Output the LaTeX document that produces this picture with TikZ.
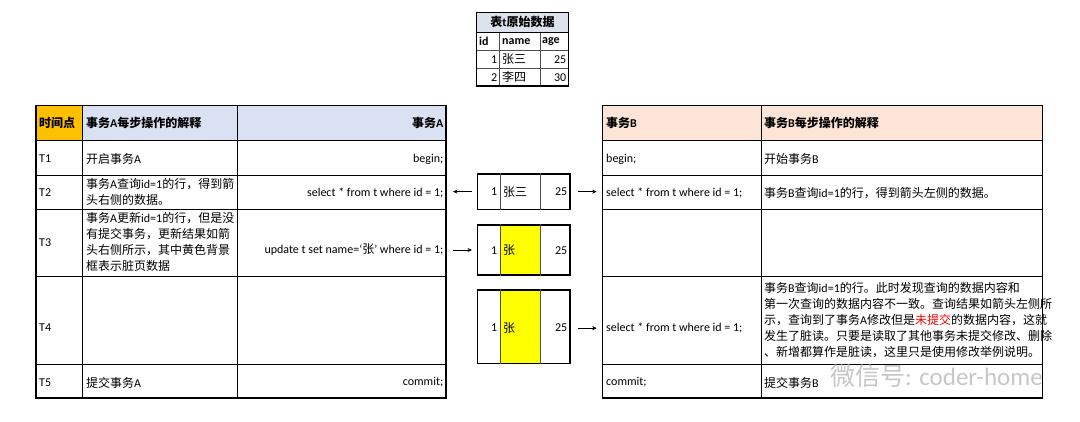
\documentclass[tikz,border=0pt]{standalone}
\usepackage{fontspec}
\setmainfont{Carlito}
\newfontfamily\cjk{Noto Sans CJK SC}
\usetikzlibrary{arrows.meta}
\newcommand\zh[1]{{\cjk #1}}
\definecolor{hdrA}{HTML}{D9E1F2}
\definecolor{hdrB}{HTML}{FCE4D6}
\definecolor{hdrT}{HTML}{DCE3EC}
\definecolor{orangeH}{HTML}{FFC000}
\definecolor{dirty}{HTML}{FFFF00}
\definecolor{innerc}{HTML}{505050}
\begin{document}
\begin{tikzpicture}[x=1pt,y=-1pt,
  font=\fontsize{12}{16}\selectfont,
  every node/.style={inner sep=0pt},
  outer/.style={draw=black,line width=1.6pt},
  inner/.style={draw=black,line width=0.8pt},
  thin/.style={draw=innerc,line width=0.7pt},
  rowbox/.style={draw=black,line width=1.5pt,minimum width=92.3pt},
  arr/.style={draw=black,line width=0.6pt,-{Stealth[length=4.5pt,width=4pt]}},
  lt/.style={anchor=west},
  rt/.style={anchor=east},
  para/.style={anchor=north west,align=left,font=\fontsize{12}{16}\selectfont}]
\useasboundingbox[fill=white] (0,0) rectangle (1080,422);

% ---------- top table ----------
\fill[hdrT] (476.7,12.3) rectangle (568.3,32.3);
\draw[thin] (499.3,32.3) -- (499.3,86) (540,32.3) -- (540,86);
\draw[thin] (476.7,50.7) -- (568.3,50.7) (476.7,68.3) -- (568.3,68.3);
\draw[inner] (476.7,32.3) -- (568.3,32.3);
\draw[outer,line width=1.3pt] (476.7,12.3) rectangle (568.3,86);
\node (th) at (522.5,22.3) {\bfseries\zh{表}t\zh{原始数据}};
\node[lt] (tid) at (479,41.5) {\bfseries id};
\node[lt] (tname) at (502,41.5) {\bfseries name};
\node[lt] (tage) at (542,41.5) {\bfseries age};
\node[rt] (t1a) at (497.5,59.5) {1};
\node[lt] (t1b) at (502,59.5) {\zh{张三}};
\node[rt] (t1c) at (566.5,59.5) {25};
\node[rt] (t2a) at (497.5,77.2) {2};
\node[lt] (t2b) at (502,77.2) {\zh{李四}};
\node[rt] (t2c) at (566.5,77.2) {30};

% ---------- table A ----------
\fill[orangeH] (36,105.5) rectangle (82.5,140);
\fill[hdrA] (82.5,105.5) rectangle (446,140);
\draw[inner] (82.5,105.5) -- (82.5,398) (237,105.5) -- (237,398);
\foreach \yy in {140,175,209.5,276,364} \draw[inner] (36,\yy) -- (446,\yy);
\draw[outer] (36,105.5) rectangle (446,398);
\coordinate (Aright) at (446,0);

\node[lt] (ah1) at (39,123) {\bfseries\zh{时间点}};
\node[lt] (ah2) at (86,123) {\bfseries\zh{事务}A\zh{每步操作的解释}};
\node[rt] (ah3) at (443.5,123) {\bfseries\zh{事务}A};

\node[lt] (aT1) at (39,159) {T1};
\node[lt] (a1e) at (86,159) {\zh{开启事务}A};
\node[rt] (a1s) at (443.5,159) {begin;};

\node[lt] (aT2) at (39,193) {T2};
\node[para] (a2e) at (86,178.5) {\zh{事务}A\zh{查询}id=1\zh{的行，得到箭}\\\zh{头右侧的数据。}};
\node[rt] (a2s) at (443.5,193) {select * from t where id = 1;};

\node[lt] (aT3) at (39,243) {T3};
\node[para] (a3e) at (86,211.8) {\zh{事务}A\zh{更新}id=1\zh{的行，但是没}\\\zh{有提交事务，更新结果如箭}\\\zh{头右侧所示，其中黄色背景}\\\zh{框表示脏页数据}};
\node[rt] (a3s) at (443.5,250) {update t set name=‘\zh{张}’ where id = 1;};

\node[lt] (aT4) at (39,328) {T4};

\node[lt] (aT5) at (39,382.5) {T5};
\node[lt] (a5e) at (86,382.5) {\zh{提交事务}A};
\node[rt] (a5s) at (443.5,382.5) {commit;};

% ---------- table B ----------
\fill[hdrB] (602.5,105.5) rectangle (1042.5,140);
\draw[inner] (761,105.5) -- (761,398);
\foreach \yy in {140,175,209.5,276,364} \draw[inner] (602.5,\yy) -- (1042.5,\yy);
\draw[outer] (602.5,105.5) rectangle (1042.5,398);
\coordinate (Bleft) at (602.5,0);

\node[lt] (bh1) at (606,123) {\bfseries\zh{事务}B};
\node[lt] (bh2) at (764,123) {\bfseries\zh{事务}B\zh{每步操作的解释}};

\node[lt] (b1s) at (606,159) {begin;};
\node[lt] (b1e) at (764,159) {\zh{开始事务}B};

\node[lt] (b2s) at (606,193) {select * from t where id = 1;};
\node[lt] (b2e) at (764,193) {\zh{事务}B\zh{查询}id=1\zh{的行，得到箭头左侧的数据。}};

\node[lt] (b4s) at (606,328) {select * from t where id = 1;};
\node[para] (b4e) at (764,281.8) {\zh{事务}B\zh{查询}id=1\zh{的行。此时发现查询的数据内容和}\\\zh{第一次查询的数据内容不一致。查询结果如箭头左侧所}\\\zh{示，查询到了事务}A\zh{修改但是}\textcolor{red}{\zh{未提交}}\zh{的数据内容，这就}\\\zh{发生了脏读。只要是读取了其他事务未提交修改、删除}\\\zh{、新增都算作是脏读，这里只是使用修改举例说明。}};

\node[lt] (b5s) at (606,382.5) {commit;};
\node[lt] (b5e) at (764,382.5) {\zh{提交事务}B};

% ---------- middle row snapshots ----------
\fill[dirty] (500,225) rectangle (540.7,275);
\fill[dirty] (500,290) rectangle (540.7,363.3);
\node[rowbox,minimum height=35.3pt] (r1) at (523.85,191.65) {};
\node[rowbox,minimum height=50pt] (r2) at (523.85,250) {};
\node[rowbox,minimum height=73.3pt] (r3) at (523.85,326.65) {};
\foreach \r in {r1,r2,r3}{
  \draw[thin] (\r.north -| 500,0) -- (\r.south -| 500,0);
  \draw[thin] (\r.north -| 540.7,0) -- (\r.south -| 540.7,0);
}
\node[rt] (r1a) at (497.5,192) {1};
\node[lt] (r1b) at (503,192) {\zh{张三}};
\node[rt] (r1c) at (567.5,192) {25};
\node[rt] (r2a) at (497.5,250.5) {1};
\node[lt] (r2b) at (503,250.5) {\zh{张}};
\node[rt] (r2c) at (567.5,250.5) {25};
\node[rt] (r3a) at (497.5,328) {1};
\node[lt] (r3b) at (503,328) {\zh{张}};
\node[rt] (r3c) at (567.5,328) {25};

% ---------- arrows ----------
\draw[arr,shorten <=4.7pt,shorten >=7pt] (r1.west) -- (r1.west -| Aright);
\draw[arr,shorten <=7.7pt,shorten >=5.8pt] (r1.east) -- (r1.east -| Bleft);
\draw[arr,shorten <=7pt,shorten >=5pt] (r2.west -| Aright) -- (r2.west);
\draw[arr,shorten <=7.7pt,shorten >=5.8pt] ([yshift=-1.5pt]r3.east) -- ([yshift=-1.5pt]r3.east -| Bleft);

% ---------- watermark ----------
\node[rt,text=gray!55,opacity=0.8,font=\fontsize{25}{27}\selectfont] (wm) at (1043,376) {\zh{微信号}: coder-home};
\end{tikzpicture}
\end{document}
